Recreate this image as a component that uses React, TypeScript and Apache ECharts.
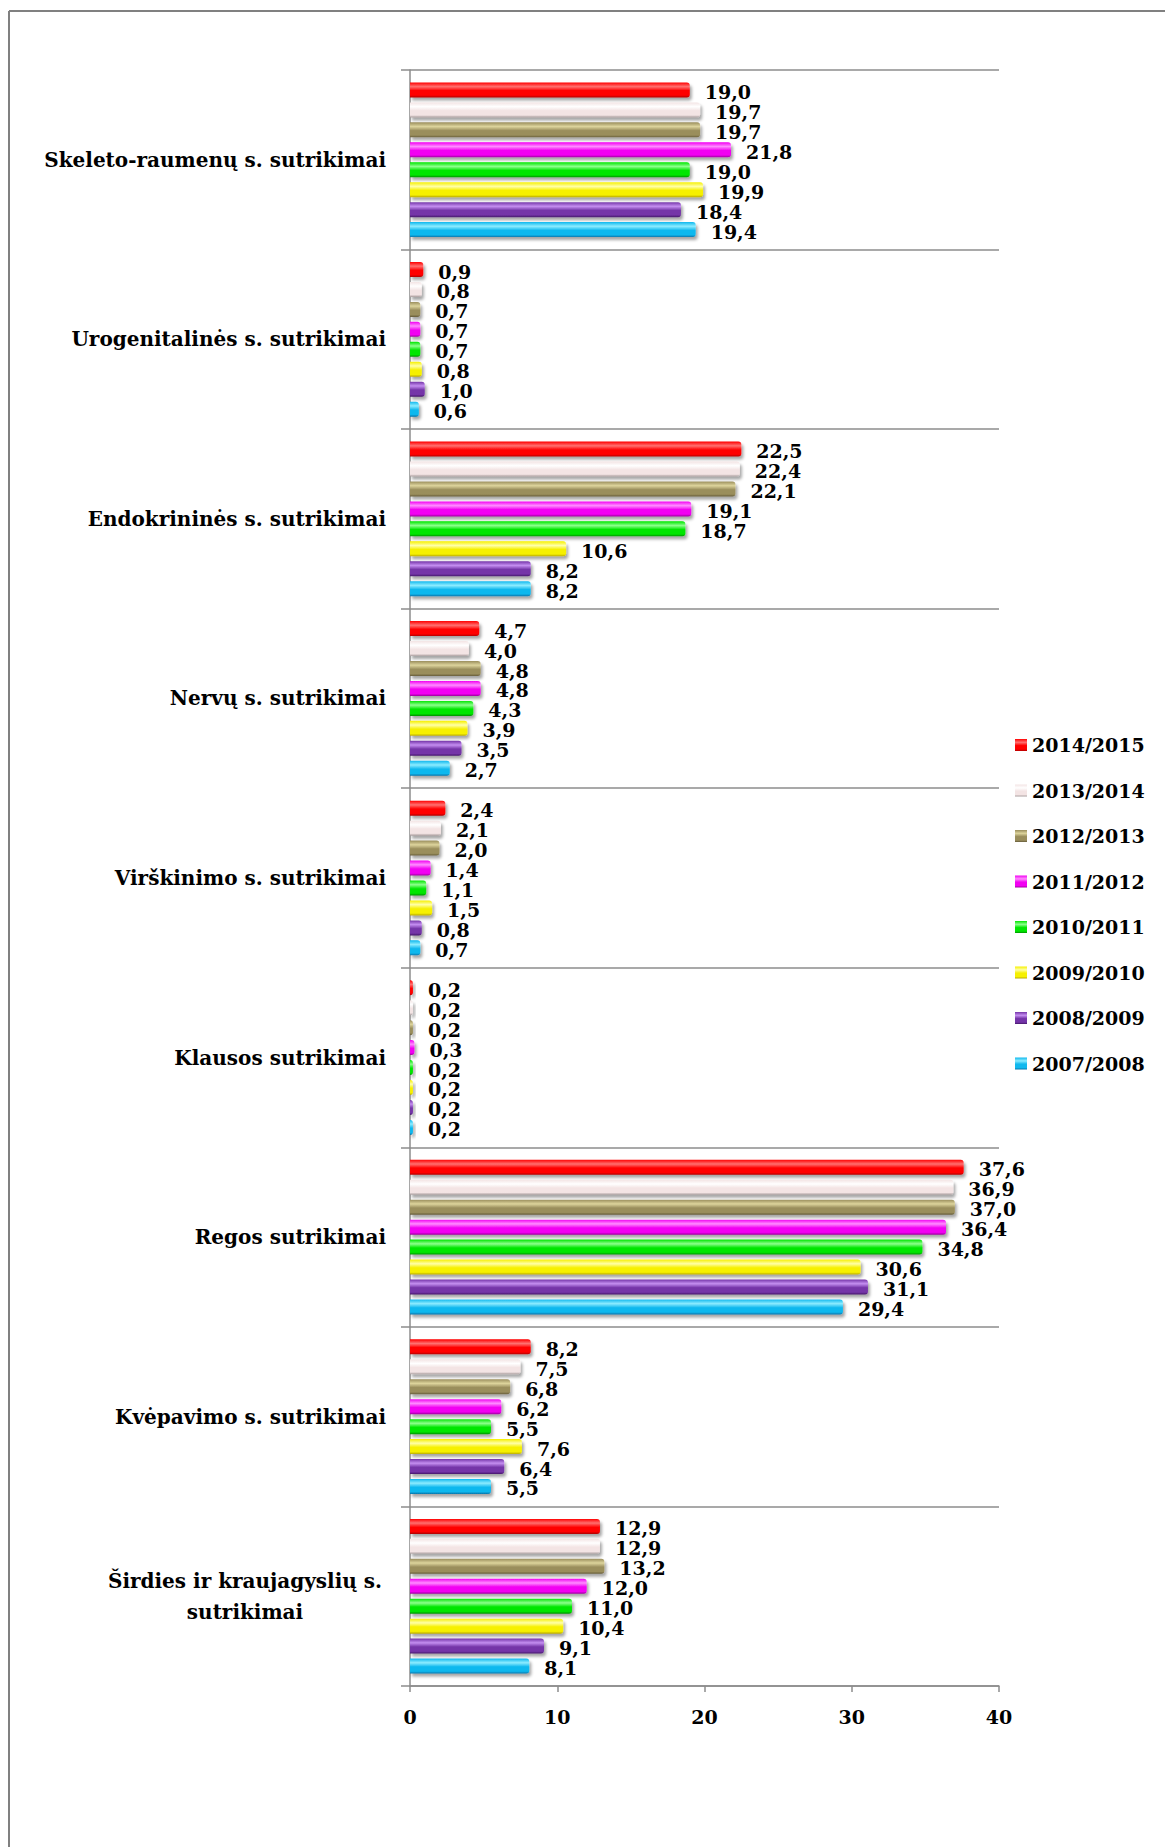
import React, { useEffect, useRef } from "react";
import * as echarts from "echarts";

const categories = [
  "Skeleto-raumenų s. sutrikimai",
  "Urogenitalinės s. sutrikimai",
  "Endokrininės s. sutrikimai",
  "Nervų s. sutrikimai",
  "Virškinimo s. sutrikimai",
  "Klausos sutrikimai",
  "Regos sutrikimai",
  "Kvėpavimo s. sutrikimai",
  "Širdies ir kraujagyslių s. sutrikimai",
];

const seriesNames = [
  "2014/2015",
  "2013/2014",
  "2012/2013",
  "2011/2012",
  "2010/2011",
  "2009/2010",
  "2008/2009",
  "2007/2008",
];

const v2014_2015 = [19.0, 0.9, 22.5, 4.7, 2.4, 0.2, 37.6, 8.2, 12.9];
const v2013_2014 = [19.7, 0.8, 22.4, 4.0, 2.1, 0.2, 36.9, 7.5, 12.9];
const v2012_2013 = [19.7, 0.7, 22.1, 4.8, 2.0, 0.2, 37.0, 6.8, 13.2];
const v2011_2012 = [21.8, 0.7, 19.1, 4.8, 1.4, 0.3, 36.4, 6.2, 12.0];
const v2010_2011 = [19.0, 0.7, 18.7, 4.3, 1.1, 0.2, 34.8, 5.5, 11.0];
const v2009_2010 = [19.9, 0.8, 10.6, 3.9, 1.5, 0.2, 30.6, 7.6, 10.4];
const v2008_2009 = [18.4, 1.0, 8.2, 3.5, 0.8, 0.2, 31.1, 6.4, 9.1];
const v2007_2008 = [19.4, 0.6, 8.2, 2.7, 0.7, 0.2, 29.4, 5.5, 8.1];

const seriesValues = [
  v2014_2015,
  v2013_2014,
  v2012_2013,
  v2011_2012,
  v2010_2011,
  v2009_2010,
  v2008_2009,
  v2007_2008,
];

const xTicks = [0, 10, 20, 30, 40];

// [light, base, dark]
const palette = [
  ["#ff7070", "#ff0000", "#b00000"],
  ["#ffffff", "#f3e4e4", "#a89c9c"],
  ["#ddd49c", "#9a8e5c", "#665c3a"],
  ["#ff8cff", "#f200f2", "#9c009c"],
  ["#8cff8c", "#00e600", "#009000"],
  ["#ffffa8", "#f6f000", "#b8a800"],
  ["#c48ef0", "#7434a8", "#45186a"],
  ["#8cecff", "#10b8ee", "#0474aa"],
];

const FONT = '"DejaVu Serif", "Liberation Serif", serif';

function grad(c: string[]) {
  return new echarts.graphic.LinearGradient(0, 0, 0, 1, [
    { offset: 0, color: c[1] },
    { offset: 0.28, color: c[0] },
    { offset: 0.55, color: c[1] },
    { offset: 0.85, color: c[1] },
    { offset: 1, color: c[2] },
  ]);
}

export default function App() {
  const ref = useRef<HTMLDivElement>(null);
  useEffect(() => {
    if (!ref.current) return;
    const chart = echarts.init(ref.current, null, { renderer: "svg" });
    const option = {
      animation: false,
      backgroundColor: "#ffffff",
      graphic: [
        {
          type: "line",
          shape: { x1: 9, y1: 11, x2: 1165, y2: 11 },
          style: { stroke: "#808080", lineWidth: 2 },
        },
        {
          type: "line",
          shape: { x1: 9, y1: 11, x2: 9, y2: 1847 },
          style: { stroke: "#808080", lineWidth: 2 },
        },
      ],
      legend: {
        orient: "vertical",
        left: 1010,
        top: 730,
        itemWidth: 12,
        itemHeight: 12,
        itemGap: 25.5,
        icon: "rect",
        data: seriesNames,
        textStyle: {
          fontFamily: FONT,
          fontWeight: "bold",
          fontSize: 19,
          lineHeight: 20,
          color: "#000",
        },
      },
      grid: { left: 410, right: 166, top: 70, bottom: 161, containLabel: false },
      xAxis: {
        type: "value",
        min: xTicks[0],
        max: xTicks[xTicks.length - 1],
        interval: 10,
        axisLine: { show: true, lineStyle: { color: "#8c8c8c", width: 1.5 } },
        axisTick: { show: true, length: 6, lineStyle: { color: "#8c8c8c", width: 1.5 } },
        splitLine: { show: false },
        axisLabel: {
          margin: 21,
          fontFamily: FONT,
          fontWeight: "bold",
          fontSize: 19,
          color: "#000",
        },
      },
      yAxis: {
        type: "category",
        inverse: true,
        data: categories,
        axisLine: { show: true, lineStyle: { color: "#8c8c8c", width: 1.5 } },
        axisTick: { show: true, length: 9, lineStyle: { color: "#8c8c8c", width: 1.5 } },
        splitLine: { show: true, lineStyle: { color: "#8c8c8c", width: 1.5 } },
        axisLabel: {
          margin: 24,
          fontFamily: FONT,
          fontWeight: "bold",
          fontSize: 20,
          color: "#000",
          formatter: (name: string) => {
            if (name === "Širdies ir kraujagyslių s. sutrikimai") {
              return "{c|Širdies ir kraujagyslių s.}\n{c|sutrikimai}";
            }
            return name;
          },
          rich: {
            c: {
              width: 282,
              align: "center",
              fontFamily: FONT,
              fontWeight: "bold",
              fontSize: 20,
              lineHeight: 31,
              color: "#000",
            },
          },
        },
      },
      series: seriesNames.map((name, i) => ({
        name,
        type: "bar",
        data: seriesValues[i],
        barWidth: 15,
        barGap: "33%",
        itemStyle: {
          color: grad(palette[i]),
          borderRadius: [0, 3, 3, 0],
          shadowColor: "rgba(0,0,0,0.35)",
          shadowBlur: 3,
          shadowOffsetX: 2,
          shadowOffsetY: 3,
        },
        label: {
          show: true,
          position: "right",
          distance: 5,
          offset: [10, 2],
          fontFamily: FONT,
          fontWeight: "bold",
          fontSize: 19,
          color: "#000",
          formatter: (p: any) => Number(p.value).toFixed(1).replace(".", ","),
        },
      })),
    };
    chart.setOption(option as any);
    return () => chart.dispose();
  }, []);
  return (
    <div
      ref={ref}
      style={{ position: "fixed", left: 0, top: 0, width: 1165, height: 1847 }}
    />
  );
}
